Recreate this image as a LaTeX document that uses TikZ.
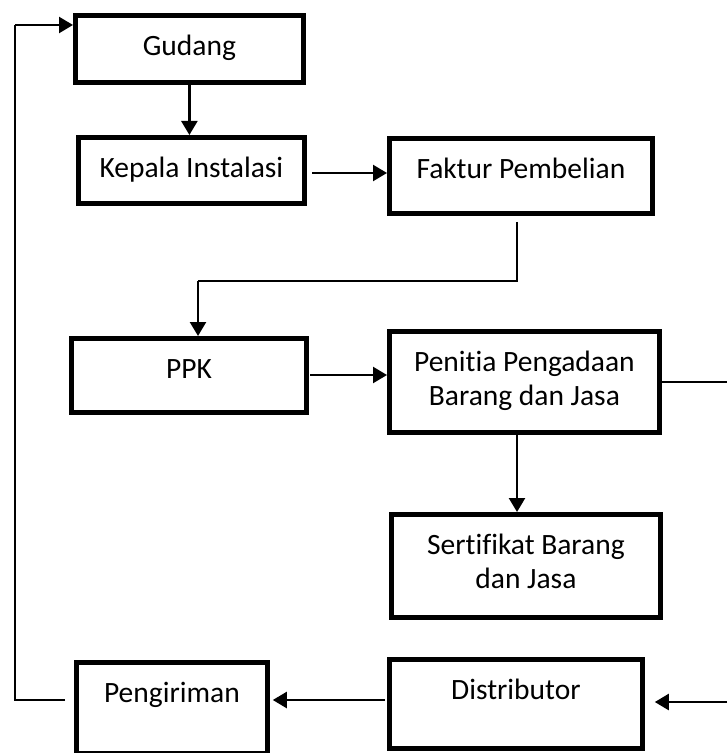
\documentclass[tikz,border=0pt]{standalone}
\usepackage{fontspec}
\setmainfont{Carlito}[Ligatures=NoCommon]
\usetikzlibrary{arrows.meta}
\tikzset{
	kotak/.style={draw, line width=2.4pt, anchor=north west, inner xsep=0pt, inner ysep=0pt,
		align=center, text height=20pt, font=\fontsize{14.75}{17}\selectfont},
	panah/.style={-{Triangle[length=7pt,width=8pt]}, line width=1.2pt},
	garis/.style={line width=0.8pt},
}
\begin{document}
\begin{tikzpicture}[x=0.5pt,y=-0.5pt]
		\useasboundingbox (0,0) rectangle (727,753);
		%kotak atas
		\node[kotak, minimum width=114pt, text depth=13.5pt] (gudang) at (73,13) {Gudang};
		\node[kotak, minimum width=113pt, text depth=13pt] (kepala) at (76,135) {Kepala Instalasi};
		\node[kotak, minimum width=131.5pt, text depth=17.5pt] (faktur) at (387,136) {Faktur Pembelian};
		%kotak tengah
		\node[kotak, minimum width=117.5pt, text depth=17pt] (ppk) at (69,336) {PPK};
		\node[kotak, minimum width=135pt, text height=37pt, text depth=13.5pt] (penitia) at (387,329) {Penitia Pengadaan\\Barang dan Jasa};
		\node[kotak, minimum width=134.5pt, text height=37pt, text depth=14.5pt] (sertifikat) at (389,512) {Sertifikat Barang\\dan Jasa};
		%kotak bawah
		\node[kotak, minimum width=126.5pt, text depth=24.5pt] (distributor) at (387,657) {Distributor};
		\node[kotak, minimum width=95.5pt, text depth=25.5pt] (pengiriman) at (74,660) {Pengiriman};
		%titik bantu
		\coordinate (k1) at (312,173);
		\coordinate (f1) at (517,281);
		\coordinate (f2) at (198,281);
		\coordinate (p1) at (310,375);
		\coordinate (pj) at (727,382);
		\coordinate (s1) at (517,434);
		\coordinate (d1) at (727,702);
		\coordinate (d2) at (385,700);
		\coordinate (b1) at (65,700);
		\coordinate (b2) at (15,700);
		\coordinate (b3) at (15,25);
		% panah
			\draw[panah] (gudang.south) -- (gudang.south |- kepala.north);
			\draw[panah] (k1) -- (faktur.west |- k1);
			\draw[garis] ([yshift=-3pt]faktur.south -| f1) -- (f1) -- (f2);
			\draw[panah] (f2) -- (ppk.north -| f2);
			\draw[panah] (p1) -- (penitia.west |- p1);
			\draw[garis] (penitia.east |- pj) -- (pj);
			\draw[panah] (s1) -- (sertifikat.north -| s1);
			\draw[panah] (d1) -- ([xshift=5pt]distributor.east |- d1);
			\draw[panah] (d2) -- ([xshift=1.5pt]pengiriman.east |- d2);
		% balik ke gudang
			\draw[garis] (b1) -- (b2) -- (b3);
			\draw[panah] (b3) -- (gudang.west |- b3);
\end{tikzpicture}
\end{document}
